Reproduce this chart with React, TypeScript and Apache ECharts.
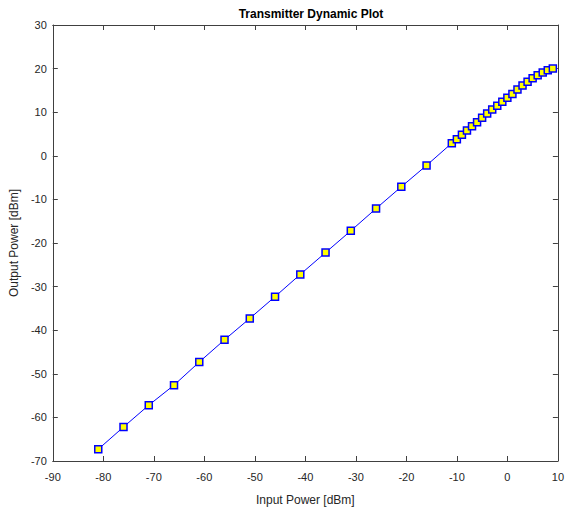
import React, { useEffect, useRef } from "react";
import * as echarts from "echarts";

const inputPower = [
  -81, -76, -71, -66, -61, -56, -51, -46, -41, -36, -31, -26, -21, -16, -11,
  -10, -9, -8, -7, -6, -5, -4, -3, -2, -1, 0, 1, 2, 3, 4, 5, 6, 7, 8, 9,
];
const outputPower = [
  -67.3, -62.2, -57.2, -52.6, -47.3, -42.2, -37.3, -32.3, -27.2, -22.2, -17.2, -12.1, -7.1, -2.2, 2.9,
  3.8, 4.8, 5.8, 6.8, 7.7, 8.7, 9.7, 10.6, 11.5, 12.4, 13.3, 14.2, 15.2, 16.1, 17.0, 17.8, 18.5, 19.1, 19.6, 20.0,
];
const titleText = "Transmitter Dynamic Plot";
const xName = "Input Power [dBm]";
const yName = "Output Power [dBm]";

export default function App() {
  const ref = useRef<HTMLDivElement>(null);
  useEffect(() => {
    if (!ref.current) return;
    const chart = echarts.init(ref.current, undefined, { renderer: "svg" });
    const axisColor = "#404040";
    const font = "Liberation Sans, Arial, sans-serif";
    const baseAxis = {
      axisLine: { show: true, onZero: false, lineStyle: { color: axisColor, width: 1 } },
      axisTick: { show: true, inside: true, length: 5, lineStyle: { color: axisColor } },
      splitLine: { show: false },
    };
    chart.setOption({
      animation: false,
      backgroundColor: "#ffffff",
      title: {
        text: titleText,
        left: 306,
        top: 3,
        textAlign: "center",
        textStyle: { fontSize: 12, fontWeight: "bold", color: "#000", fontFamily: font },
      },
      grid: { left: 52, right: 7, top: 25, bottom: 40 },
      xAxis: [
        {
          type: "value",
          min: -90,
          max: 10,
          interval: 10,
          position: "bottom",
          name: xName,
          nameLocation: "middle",
          nameGap: 33,
          nameTextStyle: { fontSize: 12, color: "#262626", fontFamily: font },
          axisLabel: { fontSize: 11, color: "#262626", fontFamily: font, margin: 10 },
          ...baseAxis,
        },
        {
          type: "value",
          min: -90,
          max: 10,
          interval: 10,
          position: "top",
          axisLabel: { show: false },
          ...baseAxis,
        },
      ],
      yAxis: [
        {
          type: "value",
          min: -70,
          max: 30,
          interval: 10,
          position: "left",
          name: yName,
          nameLocation: "middle",
          nameGap: 27,
          nameTextStyle: { fontSize: 12, color: "#262626", fontFamily: font },
          axisLabel: { fontSize: 11, color: "#262626", fontFamily: font, margin: 6 },
          ...baseAxis,
        },
        {
          type: "value",
          min: -70,
          max: 30,
          interval: 10,
          position: "right",
          axisLabel: { show: false },
          ...baseAxis,
        },
      ],
      series: [
        {
          type: "line",
          data: inputPower.map((x, i) => [x, outputPower[i]]),
          symbol: "rect",
          symbolSize: 7,
          lineStyle: { color: "#0000ff", width: 1 },
          itemStyle: { color: "#ffff00", borderColor: "#0000ff", borderWidth: 1.5 },
          showAllSymbol: true,
        },
      ],
    });
    return () => chart.dispose();
  }, []);
  return <div ref={ref} style={{ width: 567, height: 511, position: "absolute", left: 0, top: 0 }} />;
}
